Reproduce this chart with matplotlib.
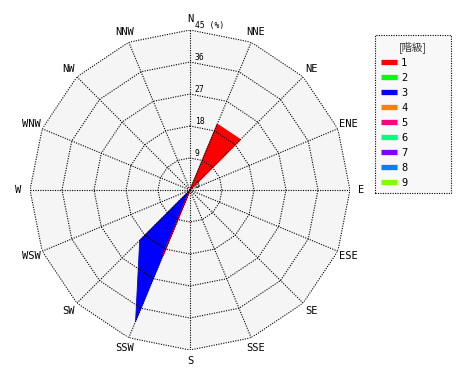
import numpy as np
import matplotlib
matplotlib.use('Agg')
import matplotlib.pyplot as plt
from matplotlib.lines import Line2D
from matplotlib.font_manager import FontProperties

# 16 wind directions, clockwise from north
directions = ['N', 'NNE', 'NE', 'ENE', 'E', 'ESE', 'SE', 'SSE',
              'S', 'SSW', 'SW', 'WSW', 'W', 'WNW', 'NW', 'NNW']

# frequency (%) of each class per direction
class1 = [0, 20, 20, 0, 0, 0, 0, 0, 0, 20, 0, 0, 0, 0, 0, 0]
class3 = [0, 0, 0, 0, 0, 0, 0, 0, 0, 40, 20, 0, 0, 0, 0, 0]

class_labels = ['1', '2', '3', '4', '5', '6', '7', '8', '9']
class_colors = ['#ff0000', '#00ff00', '#0000ff', '#ff8000', '#ff0080',
                '#00ff80', '#8000ff', '#0080ff', '#80ff00']

ring_values = [0, 9, 18, 27, 36, 45]
r_max = 45

mono = 'DejaVu Sans Mono'

theta = np.deg2rad(np.arange(len(directions)) * 360.0 / len(directions))
theta_c = np.append(theta, theta[0])


def closed(vals):
    return np.append(vals, vals[0])


fig = plt.figure(figsize=(4.7, 3.8), dpi=100)
ax = fig.add_axes([30 / 470, 30 / 380, 320 / 470, 320 / 380], projection='polar')
ax.set_theta_zero_location('N')
ax.set_theta_direction(-1)
ax.set_ylim(0, r_max)
ax.set_axis_off()

# polygon background
ax.fill(theta_c, [r_max] * len(theta_c), color='#f5f5f5', lw=0, zorder=0)

# data polygons (higher classes below)
ax.fill(theta_c, closed(class3), color=class_colors[2], lw=0.6, zorder=2)
ax.fill(theta_c, closed(class1), facecolor=class_colors[0],
        edgecolor=class_colors[0], lw=0.9, zorder=3)

# dotted grid: rings and spokes
dot = (0, (1, 1.2))
for v in ring_values[1:]:
    ax.plot(theta_c, [v] * len(theta_c), color='k', lw=0.8, ls=dot, zorder=4)
for t in theta:
    ax.plot([t, t], [0, r_max], color='k', lw=0.8, ls=dot, zorder=4)

# ring labels
for v in ring_values:
    txt = '%d (%%)' % v if v == r_max else str(v)
    ax.annotate(txt, xy=(0, v), xytext=(3.5, 0), textcoords='offset points',
                ha='left', va='bottom', fontsize=5.8, family=mono, zorder=5)

# direction labels
for t, d in zip(theta, directions):
    ax.text(t, 48.2, d, ha='center', va='center', fontsize=7.5, family=mono)

handles = [Line2D([0], [0], color=c, lw=3.8, solid_capstyle='butt')
           for c in class_colors]
leg = fig.legend(handles, class_labels, loc='upper left',
                 bbox_to_anchor=(375 / 470, 345 / 380, 76 / 470, 0),
                 mode='expand', borderaxespad=0, frameon=True, fancybox=False,
                 framealpha=1, prop=FontProperties(family=mono, size=7.5),
                 title='[階級]',
                 title_fontproperties=FontProperties(
                     family=['Noto Sans CJK JP', 'DejaVu Sans'], size=7.5),
                 handlelength=1.55, handletextpad=0.4, labelspacing=0.48,
                 borderpad=0.55)
leg.get_title().set_color('#333333')
frame = leg.get_frame()
frame.set_facecolor('#f8f8f8')
frame.set_edgecolor('k')
frame.set_linestyle((0, (1, 1.2)))
frame.set_linewidth(0.8)

fig.savefig('out.png', dpi=100)
